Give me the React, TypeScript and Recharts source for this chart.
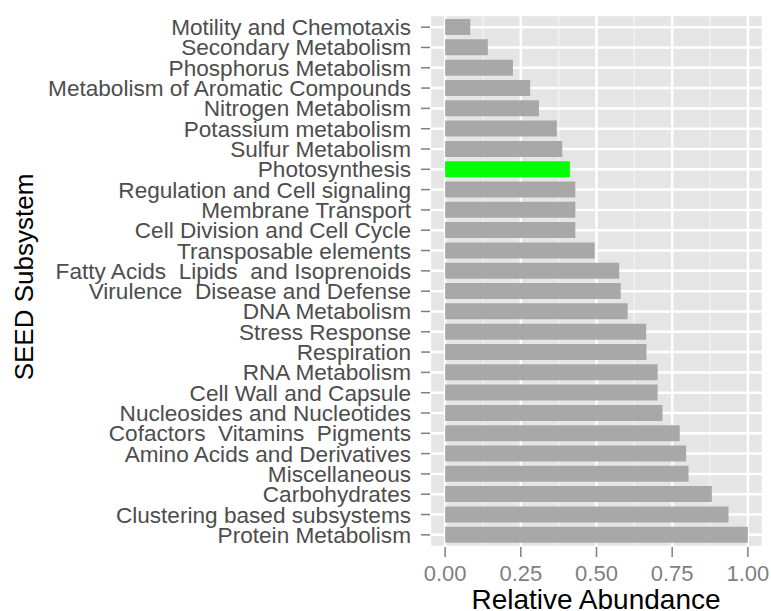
import React from 'react';
import { BarChart, Bar, XAxis, YAxis, CartesianGrid, Cell } from 'recharts';

const subsystems = [
  'Motility and Chemotaxis',
  'Secondary Metabolism',
  'Phosphorus Metabolism',
  'Metabolism of Aromatic Compounds',
  'Nitrogen Metabolism',
  'Potassium metabolism',
  'Sulfur Metabolism',
  'Photosynthesis',
  'Regulation and Cell signaling',
  'Membrane Transport',
  'Cell Division and Cell Cycle',
  'Transposable elements',
  'Fatty Acids  Lipids  and Isoprenoids',
  'Virulence  Disease and Defense',
  'DNA Metabolism',
  'Stress Response',
  'Respiration',
  'RNA Metabolism',
  'Cell Wall and Capsule',
  'Nucleosides and Nucleotides',
  'Cofactors  Vitamins  Pigments',
  'Amino Acids and Derivatives',
  'Miscellaneous',
  'Carbohydrates',
  'Clustering based subsystems',
  'Protein Metabolism',
];

const abundance = [
  0.083, 0.141, 0.224, 0.281, 0.31, 0.369, 0.387, 0.412, 0.43, 0.43, 0.43, 0.494, 0.575,
  0.58, 0.603, 0.664, 0.665, 0.702, 0.702, 0.718, 0.775, 0.796, 0.804, 0.881, 0.936, 1.0,
];

const xDomain = [-0.05, 1.05];
const majorTicks = [0, 0.25, 0.5, 0.75, 1];
const minorTicks = [0.125, 0.375, 0.625, 0.875];
const highlighted = 'Photosynthesis';

const data = subsystems.map((name, i) => ({ name, value: abundance[i] }));

const FONT = '"Liberation Sans", Arial, Helvetica, sans-serif';

// minor grid lines, placed with the same linear mapping as the x axis
const minorGrid = ({ xAxis, offset }: any) => {
  if (xAxis && typeof xAxis.scale === 'function') return minorTicks.map((v) => xAxis.scale(v));
  const [lo, hi] = xDomain;
  return minorTicks.map((v) => offset.left + ((v - lo) / (hi - lo)) * offset.width);
};

// recharts collapses runs of spaces, keep the double ones with a nbsp
const keepSpaces = (s: string) => s.replace(/  /g, ' \u00A0');

export default function App() {
  return (
    <div style={{ position: 'absolute', left: 0, top: 0, width: 771, height: 611, background: '#fff' }}>
      <BarChart
        width={771}
        height={611}
        data={data}
        layout="vertical"
        margin={{ top: 15, right: 8, left: 0, bottom: 0 }}
        barCategoryGap="10%"
        style={{ fontFamily: FONT }}
      >
        <CartesianGrid fill="#E5E5E5" stroke="#F2F2F2" strokeWidth={1.5} horizontal={false}
          verticalCoordinatesGenerator={minorGrid}
        />
        <CartesianGrid stroke="#FFFFFF" strokeWidth={2.5} />
        <XAxis
          type="number"
          domain={xDomain}
          ticks={majorTicks}
          tickFormatter={(v: number) => v.toFixed(2)}
          axisLine={false}
          tickSize={10}
          tickMargin={8}
          tickLine={{ stroke: '#7F7F7F', strokeWidth: 1.5 }}
          tick={{ fill: '#7F7F7F', fontSize: 22, fontFamily: FONT }}
          height={64}
          label={{
            content: () => (
              <text x={596} y={609} textAnchor="middle" fontSize={28} fill="#000" fontFamily={FONT}>
                Relative Abundance
              </text>
            ),
          }}
        />
        <YAxis
          type="category"
          dataKey="name"
          width={430}
          interval={0}
          padding={{ top: 2, bottom: 2 }}
          axisLine={false}
          tickSize={9}
          tickMargin={10}
          tickFormatter={keepSpaces}
          tickLine={{ stroke: '#7F7F7F', strokeWidth: 1.5 }}
          tick={{ fill: '#4D4D4D', fontSize: 22.6, fontFamily: FONT }}
          label={{
            content: () => (
              <text x={33} y={277} transform="rotate(-90, 33, 277)" textAnchor="middle" fontSize={26} fill="#000" fontFamily={FONT}>
                SEED Subsystem
              </text>
            ),
          }}
        />
        <Bar dataKey="value" isAnimationActive={false}>
          {data.map((d) => (
            <Cell key={d.name} fill={d.name === highlighted ? '#00FF00' : '#A8A8A8'} />
          ))}
        </Bar>
      </BarChart>
    </div>
  );
}
